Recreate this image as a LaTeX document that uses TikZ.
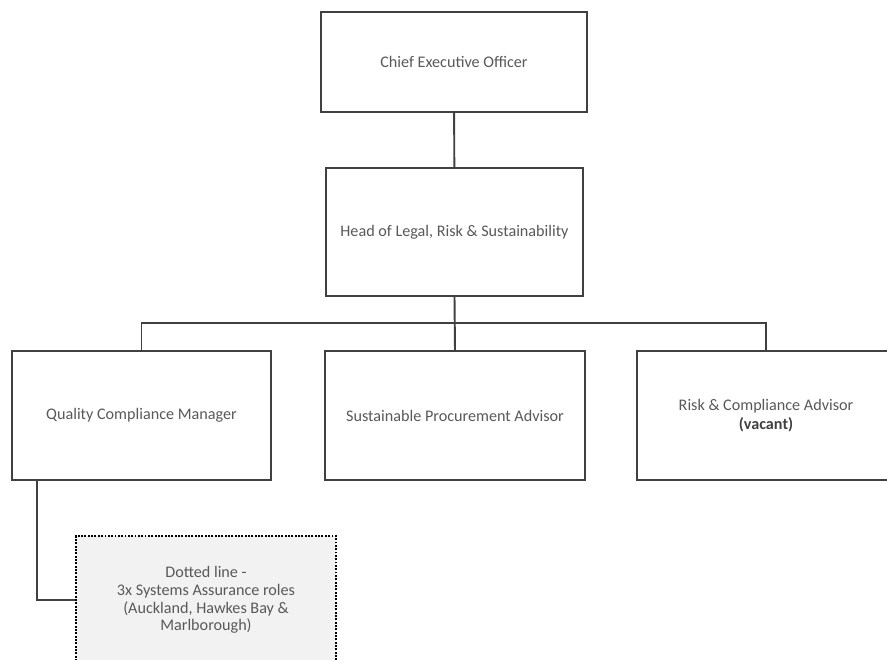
\documentclass[tikz,border=0pt]{standalone}
\usepackage{fontspec}
\setmainfont{Carlito}
\usepackage{xcolor}
\usetikzlibrary{positioning}
\definecolor{boxline}{HTML}{404040}
\definecolor{boxtext}{HTML}{595959}
\definecolor{boxfill}{HTML}{F2F2F2}
\tikzset{
  role/.style={draw=boxline,line width=1.1pt,fill=white,text=boxtext,align=center,
    inner sep=0pt,font=\fontsize{9.2}{10}\selectfont},
  link/.style={draw=boxline,line width=1.1pt},
  dotrole/.style={role,draw=black,fill=boxfill,dash pattern=on 1.1pt off 0.8pt}
}

\begin{document}
\begin{tikzpicture}[x=0.02cm,y=-0.02cm]
\clip (0,0) rectangle (887,660);

% top
\node[role,minimum width=266*0.02cm,minimum height=100*0.02cm] (ceo) at (454,62) {Chief Executive Officer};
\node[role,minimum width=257*0.02cm,minimum height=128*0.02cm] (head) at (454.5,232) {Head of Legal, Risk \& Sustainability};

% reports
\node[role,minimum width=259*0.02cm,minimum height=129*0.02cm] (qcm) at (141.5,415.5) {Quality Compliance Manager};
\node[role,minimum width=260*0.02cm,minimum height=129*0.02cm] (spa) at (455,415.5) {Sustainable Procurement Advisor};
\node[role,minimum width=258*0.02cm,minimum height=129*0.02cm] (rca) at (766,415.5) {Risk \& Compliance Advisor\\[1pt]\textcolor{boxline}{\textbf{(vacant)}}};

% dotted line roles
\node[dotrole,minimum width=260*0.02cm,minimum height=128*0.02cm] (sar) at (206,600) {Dotted line -\\3x Systems Assurance roles\\(Auckland, Hawkes Bay \&\\Marlborough)};

% lines
\coordinate (bar) at (454,323);
\draw[link] (ceo) -- (head);
\draw[link] (head.south) -- (spa.north);
\draw[link] (qcm.north) |- (bar) -| (rca.north);
\draw[link] ([xshift=26*0.02cm]qcm.south west) |- (sar.west);
\end{tikzpicture}
\end{document}
